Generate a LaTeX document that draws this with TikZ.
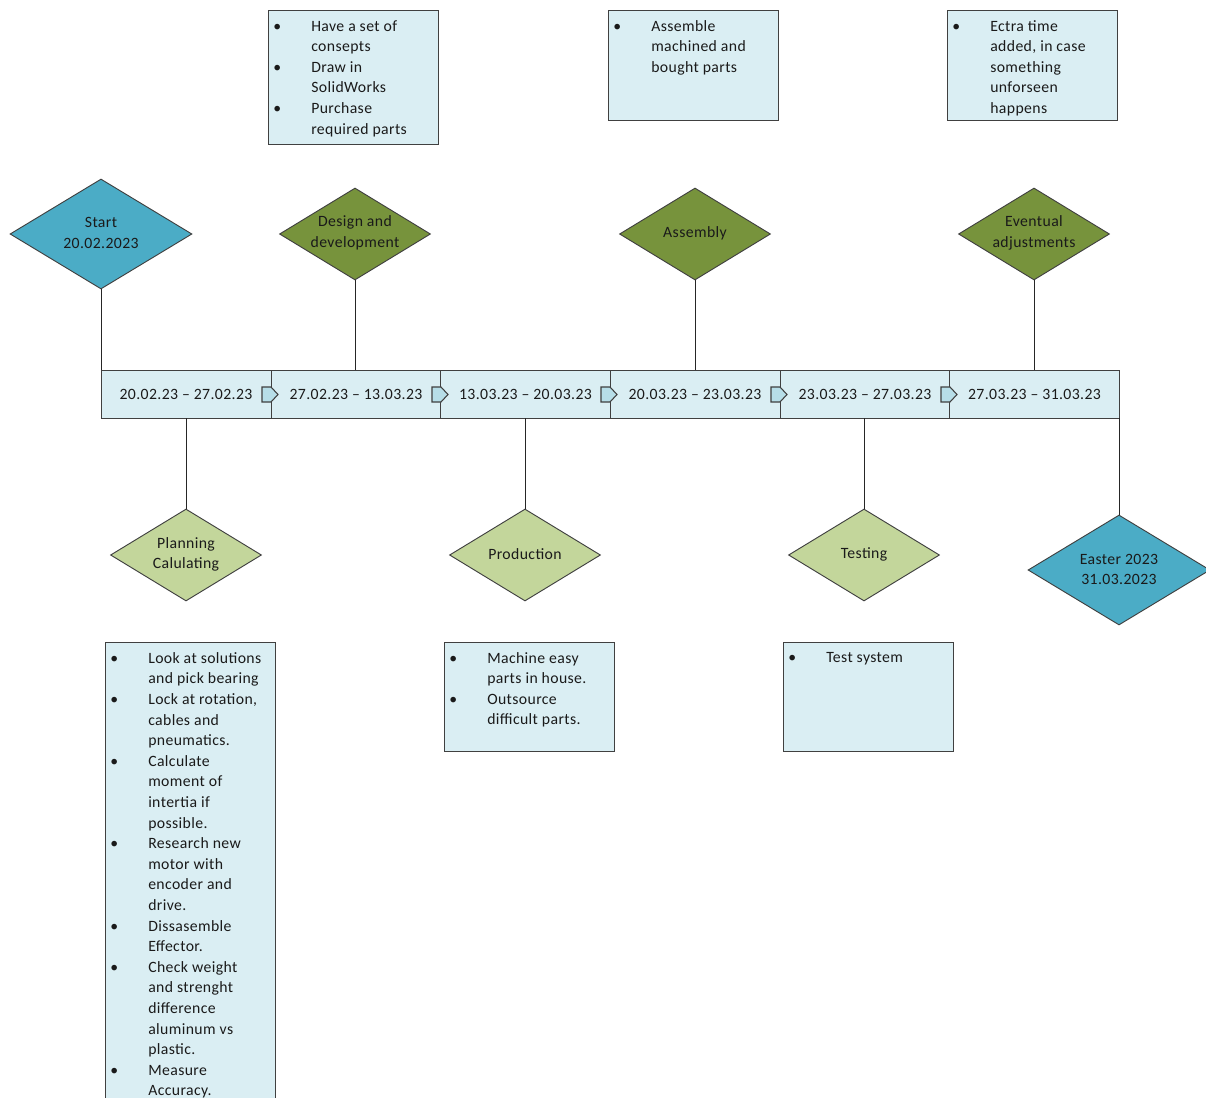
\documentclass[tikz,border=0pt]{standalone}
\usepackage{fontspec}
\setmainfont[LetterSpace=2.5]{Carlito}
\usetikzlibrary{shapes.geometric}
\definecolor{startblue}{HTML}{4BACC6}
\definecolor{olivegreen}{HTML}{77933C}
\definecolor{lightgreen}{HTML}{C3D69B}
\definecolor{lightblue}{HTML}{DAEEF3}
\definecolor{chevfill}{HTML}{B7DEE8}
\definecolor{edgecol}{HTML}{404040}
\definecolor{txtcol}{HTML}{1A1A1A}
\newcommand\bl[1]{\makebox[28.5pt][l]{\textbullet}#1}
\newcommand\cl[1]{\hspace*{28.5pt}#1}
\tikzset{
  every node/.style={font=\fontsize{11.8}{15.45}\selectfont, text=txtcol},
  diabig/.style={diamond, draw=edgecol, line width=0.7pt, inner sep=0pt, minimum width=136.5pt, minimum height=82.5pt},
  diasmall/.style={diamond, draw=edgecol, line width=0.7pt, inner sep=0pt, minimum width=113.25pt, minimum height=69pt},
  dlabel/.style={align=center, inner sep=0pt},
  infobox/.style={rectangle, draw=edgecol, line width=0.8pt, fill=lightblue, anchor=north west, minimum width=127.5pt, inner sep=0pt},
  infotext/.style={anchor=north west, align=left, inner sep=0pt},
  seg/.style={rectangle, draw=edgecol, line width=0.7pt, fill=lightblue, minimum width=127.5pt, minimum height=36pt, inner sep=0pt, outer sep=0pt},
  chevron/.style={draw=edgecol, line width=0.8pt, fill=chevfill},
  link/.style={draw=black!85, line width=0.7pt}
}
\begin{document}
\begin{tikzpicture}[x=0.75pt,y=-0.75pt]
\useasboundingbox (0,0) rectangle (1206,1098);
\clip (0,0) rectangle (1206,1098);

% timeline segments
\node[seg] (s1) at (186,394) {20.02.23 – 27.02.23};
\node[seg] (s2) at (356,394) {27.02.23 – 13.03.23};
\node[seg] (s3) at (525.5,394) {13.03.23 – 20.03.23};
\node[seg] (s4) at (695,394) {20.03.23 – 23.03.23};
\node[seg] (s5) at (865,394) {23.03.23 – 27.03.23};
\node[seg] (s6) at (1034.5,394) {27.03.23 – 31.03.23};

% chevrons
\foreach \b in {271,441,610,780,950}{
  \path[chevron] (\b-9,387) -- (\b,387) -- (\b+7,394.5) -- (\b,402) -- (\b-9,402) -- cycle;
}

% top diamonds
\node[diabig, fill=startblue] (start) at (101,234) {};
\node[dlabel] (startl) at (101,233) {Start\\20.02.2023};
\node[diasmall, fill=olivegreen] (design) at (355,234) {};
\node[dlabel] (designl) at (355,233) {Design and\\development};
\node[diasmall, fill=olivegreen] (assembly) at (695,234) {};
\node[dlabel] (assemblyl) at (695,233) {Assembly};
\node[diasmall, fill=olivegreen] (eventual) at (1034,234) {};
\node[dlabel] (eventuall) at (1034,233) {Eventual\\adjustments};

% bottom diamonds
\node[diasmall, fill=lightgreen] (planning) at (186,555) {};
\node[dlabel] (planningl) at (186,554.5) {Planning\\Calulating};
\node[diasmall, fill=lightgreen] (production) at (525,555) {};
\node[dlabel] (productionl) at (525,554.5) {Production};
\node[diasmall, fill=lightgreen] (testing) at (864,555) {};
\node[dlabel] (testingl) at (864,554.5) {Testing};
\node[diabig, fill=startblue] (easter) at (1119,570) {};
\node[dlabel] (easterl) at (1119,569.5) {Easter 2023\\31.03.2023};

% connectors
\draw[link] (start.south) -- (start.south |- s1.north);
\draw[link] (design.south) -- (design.south |- s2.north);
\draw[link] (assembly.south) -- (assembly.south |- s4.north);
\draw[link] (eventual.south) -- (eventual.south |- s6.north);
\draw[link] (planning.north |- s1.south) -- (planning.north);
\draw[link] (production.north |- s3.south) -- (production.north);
\draw[link] (testing.north |- s5.south) -- (testing.north);
\draw[link] (easter.north |- s6.south) -- (easter.north);

% info boxes
\node[infobox, minimum height=100.5pt] (b1) at (268,10) {};
\node[infotext] (t1) at ([xshift=3.75pt,yshift=-7.5pt]b1.north west)
  {\bl{Have a set of}\\\cl{consepts}\\\bl{Draw in}\\\cl{SolidWorks}\\\bl{Purchase}\\\cl{required parts}};
\node[infobox, minimum height=82.5pt] (b2) at (608,10) {};
\node[infotext] (t2) at ([xshift=3.75pt,yshift=-7.5pt]b2.north west)
  {\bl{Assemble}\\\cl{machined and}\\\cl{bought parts}};
\node[infobox, minimum height=82.5pt] (b3) at (947,10) {};
\node[infotext] (t3) at ([xshift=3.75pt,yshift=-7.5pt]b3.north west)
  {\bl{Ectra time}\\\cl{added, in case}\\\cl{something}\\\cl{unforseen}\\\cl{happens}};
\node[infobox, minimum height=360pt] (b4) at (105,642) {};
\node[infotext] (t4) at ([xshift=3.75pt,yshift=-7.5pt]b4.north west)
  {\bl{Look at solutions}\\\cl{and pick bearing}\\\bl{Lock at rotation,}\\\cl{cables and}\\\cl{pneumatics.}\\
   \bl{Calculate}\\\cl{moment of}\\\cl{intertia if}\\\cl{possible.}\\
   \bl{Research new}\\\cl{motor with}\\\cl{encoder and}\\\cl{drive.}\\
   \bl{Dissasemble}\\\cl{Effector.}\\
   \bl{Check weight}\\\cl{and strenght}\\\cl{difference}\\\cl{aluminum vs}\\\cl{plastic.}\\
   \bl{Measure}\\\cl{Accuracy.}};
\node[infobox, minimum height=81.75pt] (b5) at (444,642) {};
\node[infotext] (t5) at ([xshift=3.75pt,yshift=-7.5pt]b5.north west)
  {\bl{Machine easy}\\\cl{parts in house.}\\\bl{Outsource}\\\cl{difficult parts.}};
\node[infobox, minimum height=81.75pt] (b6) at (783,642) {};
\node[infotext] (t6) at ([xshift=3.75pt,yshift=-7.5pt]b6.north west)
  {\bl{Test system}};
\end{tikzpicture}
\end{document}
